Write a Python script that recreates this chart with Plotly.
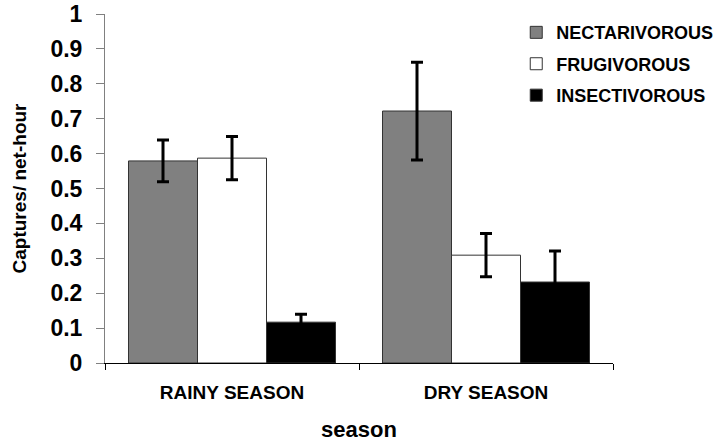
import plotly.graph_objects as go

seasons = ["RAINY SEASON", "DRY SEASON"]
series_names = ["NECTARIVOROUS", "FRUGIVOROUS", "INSECTIVOROUS"]
nectarivorous = [0.579, 0.722]
frugivorous = [0.587, 0.309]
insectivorous = [0.117, 0.232]
nectarivorous_err = [0.060, 0.140]
frugivorous_err = [0.062, 0.062]
insectivorous_err = [0.023, 0.089]
y_ticks = [0, 0.1, 0.2, 0.3, 0.4, 0.5, 0.6, 0.7, 0.8, 0.9, 1]
y_tick_labels = ["0", "0.1", "0.2", "0.3", "0.4", "0.5", "0.6", "0.7", "0.8", "0.9", "1"]

values = [nectarivorous, frugivorous, insectivorous]
errors = [nectarivorous_err, frugivorous_err, insectivorous_err]
colors = ["#808080", "#ffffff", "#000000"]

FONT = "Liberation Sans, Arial, sans-serif"

fig = go.Figure()
for i, name in enumerate(series_names):
    fig.add_trace(go.Bar(
        name=name,
        x=seasons,
        y=values[i],
        marker=dict(color=colors[i], line=dict(color="#333333", width=1)),
        error_y=dict(type="data", array=errors[i], visible=True,
                     color="#000000", thickness=3, width=6),
        legendgroup=name,
    ))

fig.update_layout(
    width=720, height=442,
    margin=dict(l=105, r=107, t=14, b=79, autoexpand=False),
    paper_bgcolor="white", plot_bgcolor="white",
    barmode="group", bargap=0.185, bargroupgap=0,
    font=dict(family=FONT, color="black", weight="bold"),
    showlegend=True,
    legend=dict(x=0.717, y=0.968, xref="container", yref="container",
                xanchor="left", yanchor="top",
                font=dict(size=18, family=FONT, weight="bold"),
                tracegroupgap=5, bgcolor="rgba(0,0,0,0)",
                itemwidth=30),
    xaxis=dict(
        showline=True, linecolor="black", linewidth=1,
        ticks="outside", tickson="boundaries", ticklen=6, tickcolor="black",
        ticklabelstandoff=12, automargin=False,
        tickfont=dict(size=19, family=FONT, weight="bold"),
        title=dict(text="season", font=dict(size=22, family=FONT, weight="bold"), standoff=22),
        showgrid=False, zeroline=False,
    ),
    yaxis=dict(
        range=[0, 1], tickvals=y_ticks, ticktext=y_tick_labels,
        showline=True, linecolor="#808080", linewidth=1,
        ticks="outside", ticklen=8, tickcolor="#808080",
        ticklabelstandoff=9, automargin=False,
        tickfont=dict(size=23, family=FONT, weight="bold"),
        title=dict(text="Captures/ net-hour", font=dict(size=19, family=FONT, weight="bold"), standoff=18),
        showgrid=False, zeroline=False,
    ),
)

fig.write_html("out.html")
